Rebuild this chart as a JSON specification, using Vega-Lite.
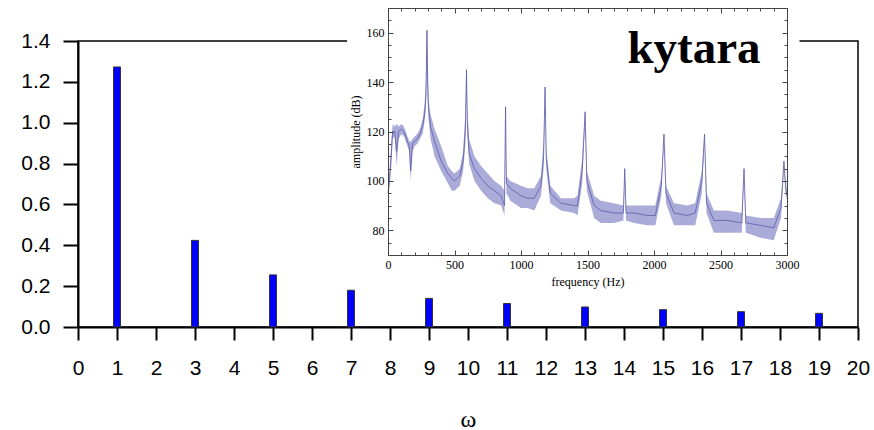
{
  "$schema": "https://vega.github.io/schema/vega-lite/v6.json",
  "width": 780,
  "height": 286,
  "autosize": {"type": "none"},
  "padding": {"left": 78, "top": 41, "right": 16, "bottom": 103},
  "background": "white",
  "config": {
    "view": {"stroke": "black", "strokeWidth": 1.5},
    "axis": {"grid": false}
  },
  "datasets": {
    "bars": [
      {"w": 1, "a": 1.273}, {"w": 3, "a": 0.424}, {"w": 5, "a": 0.255}, {"w": 7, "a": 0.18},
      {"w": 9, "a": 0.14}, {"w": 11, "a": 0.115}, {"w": 13, "a": 0.098}, {"w": 15, "a": 0.085},
      {"w": 17, "a": 0.075}, {"w": 19, "a": 0.067}
    ],
    "panel": [{"w": 6.9, "w2": 18.5, "a": 0.21, "a2": 1.61}],
    "label": [{"f": 1800, "db": 147.6, "t": "kytara"}],
    "spectrum": [
      {"f": 0, "lo": 92, "hi": 97, "mid": 95},
      {"f": 12, "lo": 98, "hi": 104, "mid": 101},
      {"f": 25, "lo": 106, "hi": 116, "mid": 111},
      {"f": 35, "lo": 117, "hi": 123, "mid": 120},
      {"f": 50, "lo": 118, "hi": 122, "mid": 120},
      {"f": 65, "lo": 106, "hi": 123, "mid": 112},
      {"f": 80, "lo": 117, "hi": 122, "mid": 120},
      {"f": 100, "lo": 119, "hi": 123, "mid": 121},
      {"f": 120, "lo": 118, "hi": 122, "mid": 120},
      {"f": 140, "lo": 115, "hi": 119, "mid": 117},
      {"f": 160, "lo": 112, "hi": 116, "mid": 114},
      {"f": 170, "lo": 100, "hi": 116, "mid": 104},
      {"f": 185, "lo": 112, "hi": 117, "mid": 115},
      {"f": 200, "lo": 114, "hi": 118, "mid": 116},
      {"f": 220, "lo": 115, "hi": 119, "mid": 117},
      {"f": 240, "lo": 117, "hi": 121, "mid": 119},
      {"f": 260, "lo": 119, "hi": 125, "mid": 122},
      {"f": 275, "lo": 124, "hi": 131, "mid": 127},
      {"f": 285, "lo": 129, "hi": 141, "mid": 134},
      {"f": 293, "lo": 150, "hi": 162, "mid": 161},
      {"f": 298, "lo": 133, "hi": 150, "mid": 140},
      {"f": 305, "lo": 125, "hi": 133, "mid": 129},
      {"f": 320, "lo": 117, "hi": 127, "mid": 122},
      {"f": 350, "lo": 110, "hi": 121, "mid": 116},
      {"f": 400, "lo": 104, "hi": 114, "mid": 108},
      {"f": 450, "lo": 99, "hi": 106, "mid": 103},
      {"f": 480, "lo": 96, "hi": 104, "mid": 101},
      {"f": 500, "lo": 96, "hi": 103, "mid": 100},
      {"f": 540, "lo": 98, "hi": 105, "mid": 102},
      {"f": 565, "lo": 104, "hi": 112, "mid": 108},
      {"f": 582, "lo": 115, "hi": 128, "mid": 121},
      {"f": 590, "lo": 140, "hi": 146, "mid": 145},
      {"f": 596, "lo": 119, "hi": 130, "mid": 124},
      {"f": 610, "lo": 107, "hi": 117, "mid": 111},
      {"f": 650, "lo": 100, "hi": 110, "mid": 105},
      {"f": 700, "lo": 96, "hi": 106, "mid": 101},
      {"f": 750, "lo": 93, "hi": 103, "mid": 98},
      {"f": 800, "lo": 91, "hi": 100, "mid": 96},
      {"f": 850, "lo": 90, "hi": 98, "mid": 94},
      {"f": 876, "lo": 86, "hi": 96, "mid": 90},
      {"f": 884, "lo": 128, "hi": 130, "mid": 130},
      {"f": 890, "lo": 95, "hi": 102, "mid": 99},
      {"f": 920, "lo": 92, "hi": 100, "mid": 97},
      {"f": 1000, "lo": 89, "hi": 98, "mid": 94},
      {"f": 1050, "lo": 89, "hi": 97, "mid": 93},
      {"f": 1100, "lo": 88, "hi": 97, "mid": 93},
      {"f": 1150, "lo": 94, "hi": 102, "mid": 98},
      {"f": 1170, "lo": 105, "hi": 116, "mid": 110},
      {"f": 1181, "lo": 135, "hi": 138, "mid": 138},
      {"f": 1190, "lo": 105, "hi": 113, "mid": 109},
      {"f": 1220, "lo": 91, "hi": 98, "mid": 95},
      {"f": 1300, "lo": 88, "hi": 93, "mid": 91},
      {"f": 1400, "lo": 87, "hi": 93, "mid": 90},
      {"f": 1425, "lo": 86, "hi": 94, "mid": 90},
      {"f": 1460, "lo": 99, "hi": 109, "mid": 104},
      {"f": 1482, "lo": 125, "hi": 128, "mid": 128},
      {"f": 1495, "lo": 96, "hi": 104, "mid": 100},
      {"f": 1550, "lo": 85, "hi": 94, "mid": 90},
      {"f": 1600, "lo": 83, "hi": 92, "mid": 88},
      {"f": 1700, "lo": 83, "hi": 91, "mid": 87},
      {"f": 1770, "lo": 84, "hi": 90, "mid": 87},
      {"f": 1780, "lo": 103, "hi": 105, "mid": 105},
      {"f": 1790, "lo": 84, "hi": 90, "mid": 87},
      {"f": 1850, "lo": 83, "hi": 90, "mid": 87},
      {"f": 1950, "lo": 82, "hi": 90, "mid": 86},
      {"f": 2010, "lo": 82, "hi": 90, "mid": 86},
      {"f": 2055, "lo": 94, "hi": 102, "mid": 98},
      {"f": 2075, "lo": 117, "hi": 119, "mid": 119},
      {"f": 2090, "lo": 91, "hi": 98, "mid": 95},
      {"f": 2150, "lo": 82, "hi": 91, "mid": 87},
      {"f": 2250, "lo": 82, "hi": 90, "mid": 86},
      {"f": 2310, "lo": 82, "hi": 91, "mid": 87},
      {"f": 2360, "lo": 95, "hi": 104, "mid": 100},
      {"f": 2380, "lo": 117, "hi": 119, "mid": 119},
      {"f": 2395, "lo": 87, "hi": 95, "mid": 91},
      {"f": 2450, "lo": 79, "hi": 88, "mid": 84},
      {"f": 2550, "lo": 79, "hi": 88, "mid": 84},
      {"f": 2660, "lo": 79, "hi": 87, "mid": 83},
      {"f": 2677, "lo": 103, "hi": 105, "mid": 105},
      {"f": 2690, "lo": 79, "hi": 86, "mid": 83},
      {"f": 2800, "lo": 77, "hi": 85, "mid": 82},
      {"f": 2900, "lo": 76, "hi": 85, "mid": 81},
      {"f": 2955, "lo": 85, "hi": 93, "mid": 89},
      {"f": 2977, "lo": 106, "hi": 108, "mid": 108},
      {"f": 2990, "lo": 95, "hi": 100, "mid": 97},
      {"f": 3000, "lo": 92, "hi": 96, "mid": 94}
    ]
  },
  "layer": [
    {
      "layer": [
        {
          "data": {"name": "bars"},
          "mark": {"type": "bar", "size": 7, "fill": "#0000ff", "stroke": "#333333", "strokeWidth": 1},
          "encoding": {
            "x": {
              "field": "w", "type": "quantitative",
              "scale": {"domain": [0, 20], "nice": false, "zero": false, "padding": 0},
              "axis": {
                "orient": "bottom",
                "values": [0,1,2,3,4,5,6,7,8,9,10,11,12,13,14,15,16,17,18,19,20],
                "format": "d", "labelFont": "Liberation Sans", "labelFontSize": 21, "labelColor": "black",
                "labelPadding": 17, "labelFlush": false, "labelOverlap": false,
                "tickSize": 13, "tickWidth": 2, "tickColor": "black",
                "domainColor": "black", "domainWidth": 2,
                "title": "ω", "titleFont": "Liberation Serif", "titleFontSize": 24, "titleFontWeight": "normal",
                "titleColor": "black", "titlePadding": 29
              }
            },
            "y": {
              "field": "a", "type": "quantitative",
              "scale": {"domain": [0, 1.4], "nice": false, "padding": 0},
              "axis": {
                "orient": "left",
                "values": [0, 0.2, 0.4, 0.6, 0.8, 1.0, 1.2, 1.4],
                "format": ".1f", "labelFont": "Liberation Sans", "labelFontSize": 21, "labelColor": "black",
                "labelPadding": 13, "labelFlush": false, "labelOverlap": false,
                "tickSize": 15, "tickWidth": 2, "tickColor": "black",
                "domainColor": "black", "domainWidth": 2, "title": null
              }
            }
          }
        },
        {
          "data": {"name": "panel"},
          "mark": {"type": "rect", "fill": "white", "stroke": null},
          "encoding": {
            "x": {
              "field": "w", "type": "quantitative",
              "axis": {
                "orient": "bottom",
                "values": [0,1,2,3,4,5,6,7,8,9,10,11,12,13,14,15,16,17,18,19,20],
                "format": "d", "labelFont": "Liberation Sans", "labelFontSize": 21, "labelColor": "black",
                "labelPadding": 17, "labelFlush": false, "labelOverlap": false,
                "tickSize": 13, "tickWidth": 2, "tickColor": "black",
                "domainColor": "black", "domainWidth": 2,
                "title": "ω", "titleFont": "Liberation Serif", "titleFontSize": 24, "titleFontWeight": "normal",
                "titleColor": "black", "titlePadding": 29
              }
            },
            "x2": {"field": "w2"},
            "y": {
              "field": "a", "type": "quantitative",
              "axis": {
                "orient": "left",
                "values": [0, 0.2, 0.4, 0.6, 0.8, 1.0, 1.2, 1.4],
                "format": ".1f", "labelFont": "Liberation Sans", "labelFontSize": 21, "labelColor": "black",
                "labelPadding": 13, "labelFlush": false, "labelOverlap": false,
                "tickSize": 15, "tickWidth": 2, "tickColor": "black",
                "domainColor": "black", "domainWidth": 2, "title": null
              }
            },
            "y2": {"field": "a2"}
          }
        }
      ]
    },
    {
      "layer": [
        {
          "data": {"name": "spectrum"},
          "mark": {"type": "area", "color": "#9c9cd2", "opacity": 0.85},
          "encoding": {
            "x": {
              "field": "f", "type": "quantitative",
              "scale": {"domain": [0, 3000], "range": [310, 709], "nice": false, "zero": false, "padding": 0},
              "axis": {
                "orient": "bottom", "offset": -72, "zindex": 1,
                "values": [0, 500, 1000, 1500, 2000, 2500, 3000], "format": "d",
                "labelFont": "Liberation Serif", "labelFontSize": 12, "labelColor": "black", "labelPadding": 9,
                "labelFlush": false, "labelOverlap": false,
                "tickSize": -5, "tickColor": "#444444", "tickWidth": 1,
                "domainColor": "#444444", "domainWidth": 1,
                "title": "frequency (Hz)", "titleFont": "Liberation Serif", "titleFontSize": 12,
                "titleFontWeight": "normal", "titleColor": "black", "titlePadding": 6
              }
            },
            "y": {
              "field": "lo", "type": "quantitative",
              "scale": {"domain": [70, 170], "range": [214, -33], "nice": false, "zero": false, "padding": 0},
              "axis": {
                "orient": "left", "offset": -310, "zindex": 1,
                "values": [80, 100, 120, 140, 160], "format": "d",
                "labelFont": "Liberation Serif", "labelFontSize": 12, "labelColor": "black", "labelPadding": 9,
                "labelFlush": false, "labelOverlap": false,
                "tickSize": -5, "tickColor": "#444444", "tickWidth": 1,
                "domainColor": "#444444", "domainWidth": 1,
                "title": "amplitude (dB)", "titleFont": "Liberation Serif", "titleFontSize": 12,
                "titleFontWeight": "normal", "titleColor": "black", "titlePadding": 4
              }
            },
            "y2": {"field": "hi"}
          }
        },
        {
          "data": {"name": "spectrum"},
          "mark": {"type": "line", "color": "#5c5caa", "strokeWidth": 0.8},
          "encoding": {
            "x": {
              "field": "f", "type": "quantitative",
              "axis": {
                "orient": "top", "offset": 33, "zindex": 1,
                "values": [0, 500, 1000, 1500, 2000, 2500, 3000],
                "labels": false, "tickSize": -5, "tickColor": "#444444", "tickWidth": 1,
                "domainColor": "#444444", "domainWidth": 1, "title": null
              }
            },
            "y": {
              "field": "mid", "type": "quantitative",
              "axis": {
                "orient": "right", "offset": -71, "zindex": 1,
                "values": [80, 100, 120, 140, 160],
                "labels": false, "tickSize": -5, "tickColor": "#444444", "tickWidth": 1,
                "domainColor": "#444444", "domainWidth": 1, "title": null
              }
            }
          }
        },
        {
          "data": {"name": "spectrum"},
          "mark": {"type": "point", "opacity": 0},
          "encoding": {
            "x": {
              "field": "f", "type": "quantitative",
              "axis": {
                "orient": "bottom", "offset": -72, "zindex": 1,
                "values": [100, 200, 300, 400, 600, 700, 800, 900, 1100, 1200, 1300, 1400, 1600, 1700, 1800, 1900, 2100, 2200, 2300, 2400, 2600, 2700, 2800, 2900],
                "labels": false, "domain": false, "tickSize": -3, "tickColor": "#444444", "tickWidth": 1, "title": null
              }
            },
            "y": {
              "field": "mid", "type": "quantitative",
              "axis": {
                "orient": "left", "offset": -310, "zindex": 1,
                "values": [70, 75, 85, 90, 95, 105, 110, 115, 125, 130, 135, 145, 150, 155, 165, 170],
                "labels": false, "domain": false, "tickSize": -3, "tickColor": "#444444", "tickWidth": 1, "title": null
              }
            }
          }
        },
        {
          "data": {"name": "spectrum"},
          "mark": {"type": "point", "opacity": 0},
          "encoding": {
            "x": {
              "field": "f", "type": "quantitative",
              "axis": {
                "orient": "top", "offset": 33, "zindex": 1,
                "values": [100, 200, 300, 400, 600, 700, 800, 900, 1100, 1200, 1300, 1400, 1600, 1700, 1800, 1900, 2100, 2200, 2300, 2400, 2600, 2700, 2800, 2900],
                "labels": false, "domain": false, "tickSize": -3, "tickColor": "#444444", "tickWidth": 1, "title": null
              }
            },
            "y": {
              "field": "mid", "type": "quantitative",
              "axis": {
                "orient": "right", "offset": -71, "zindex": 1,
                "values": [70, 75, 85, 90, 95, 105, 110, 115, 125, 130, 135, 145, 150, 155, 165, 170],
                "labels": false, "domain": false, "tickSize": -3, "tickColor": "#444444", "tickWidth": 1, "title": null
              }
            }
          }
        },
        {
          "data": {"name": "label"},
          "mark": {"type": "text", "font": "Liberation Serif", "fontWeight": "bold", "fontSize": 47, "align": "left", "baseline": "alphabetic", "color": "black"},
          "encoding": {
            "x": {"field": "f", "type": "quantitative", "axis": null},
            "y": {"field": "db", "type": "quantitative", "axis": null},
            "text": {"field": "t"}
          }
        }
      ],
      "resolve": {"axis": {"x": "independent", "y": "independent"}}
    }
  ],
  "resolve": {
    "scale": {"x": "independent", "y": "independent"},
    "axis": {"x": "independent", "y": "independent"}
  }
}
